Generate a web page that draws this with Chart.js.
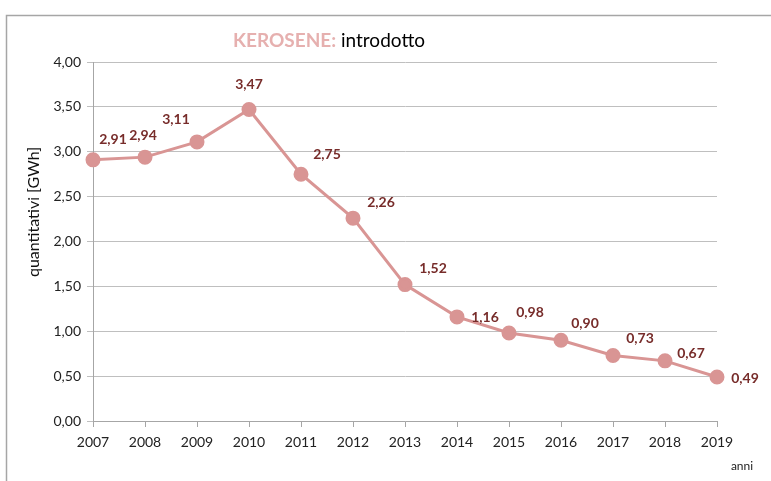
<!DOCTYPE html>
<html><head><meta charset="utf-8">
<script src="https://cdn.jsdelivr.net/npm/chart.js@4/dist/chart.umd.min.js"></script>
<style>html,body{margin:0;padding:0;background:#fff}#wrap{width:771px;height:481px;position:relative}</style>
</head><body><div id="wrap"><canvas id="c" width="771" height="481"></canvas></div>
<script>
const years = ['2007','2008','2009','2010','2011','2012','2013','2014','2015','2016','2017','2018','2019'];
const values = [2.91,2.94,3.11,3.47,2.75,2.26,1.52,1.16,0.98,0.90,0.73,0.67,0.49];
const yTicks = [0,0.5,1,1.5,2,2.5,3,3.5,4];
const labelOffsets = [[20,-20],[-2,-22],[-21,-22],[0,-25],[26,-20],[28,-16],[28,-16],[28,1],[21,-21],[24,-17],[27,-17],[26,-7],[28,1]];
const fmt = v => v.toFixed(2).replace('.', ',');
const FONT = 'Lato, "Open Sans", sans-serif';

const deco = {
  id:'deco',
  beforeDraw(chart){
    const ctx = chart.ctx;
    ctx.save();
    ctx.fillStyle='#fff'; ctx.fillRect(0,0,chart.width,chart.height);
    ctx.strokeStyle='#A6A6A6'; ctx.lineWidth=1.5;
    ctx.strokeRect(6.5,15.5,900,600);
    ctx.restore();
  },
  afterDatasetsDraw(chart){
    const ctx = chart.ctx;
    const meta = chart.getDatasetMeta(0);
    ctx.save();
    ctx.font = 'bold 14px ' + FONT;
    ctx.fillStyle = '#772C2A';
    ctx.textAlign='center'; ctx.textBaseline='middle';
    meta.data.forEach((p,i)=>{
      const o = labelOffsets[i];
      ctx.fillText(fmt(values[i]), p.x+o[0], p.y+o[1]);
    });
    // title
    ctx.textAlign='left'; ctx.textBaseline='middle';
    ctx.font = 'bold 19px ' + FONT;
    const t1 = 'KEROSENE:';
    ctx.fillStyle='#E6B0AF';
    const x0 = 233;
    ctx.fillText(t1, x0, 41);
    const w1 = ctx.measureText(t1).width;
    ctx.font = '19px ' + FONT;
    ctx.fillStyle='#000';
    ctx.fillText(' introdotto', x0 + w1, 41);
    // y axis title
    ctx.save();
    ctx.translate(34, 212);
    ctx.rotate(-Math.PI/2);
    ctx.font = '16px ' + FONT;
    ctx.fillStyle = '#111';
    ctx.textAlign='center';
    ctx.fillText('quantitativi [GWh]', 0, 0);
    ctx.restore();
    // anni
    ctx.font = '12px ' + FONT;
    ctx.fillStyle='#222';
    ctx.textAlign='center';
    ctx.fillText('anni', 742, 466);
    ctx.restore();
  }
};

new Chart(document.getElementById('c'), {
  type:'line',
  data:{labels:years, datasets:[{data:values, borderColor:'#D99594', backgroundColor:'#D99594',
    borderWidth:3, pointRadius:6, pointHoverRadius:6, pointBackgroundColor:'#D99594', pointBorderColor:'#D99594', tension:0}]},
  options:{
    responsive:false, animation:false,
    layout:{padding:{left:0,right:54,top:62,bottom:0}},
    plugins:{legend:{display:false}, tooltip:{enabled:false}, title:{display:false}},
    scales:{
      x:{
        offset:false,
        grid:{display:true, drawOnChartArea:false, drawTicks:true, tickLength:6, color:'#A6A6A6'},
        border:{display:true,color:'#A6A6A6'},
        ticks:{color:'#222', font:{family:FONT,size:14}, padding:7, maxRotation:0, autoSkip:false},
        afterFit(s){ s.height = 60; }
      },
      y:{
        min:0,max:4,
        afterBuildTicks(s){ s.ticks = yTicks.map(v=>({value:v})); },
        grid:{color:'#BFBFBF', tickLength:6, drawTicks:true},
        border:{display:true,color:'#A6A6A6'},
        ticks:{color:'#222', font:{family:FONT,size:14}, padding:6, callback:v=>fmt(v)},
        title:{display:false},
        afterFit(s){ s.width = 93; }
      }
    }
  },
  plugins:[deco]
});
</script></body></html>
